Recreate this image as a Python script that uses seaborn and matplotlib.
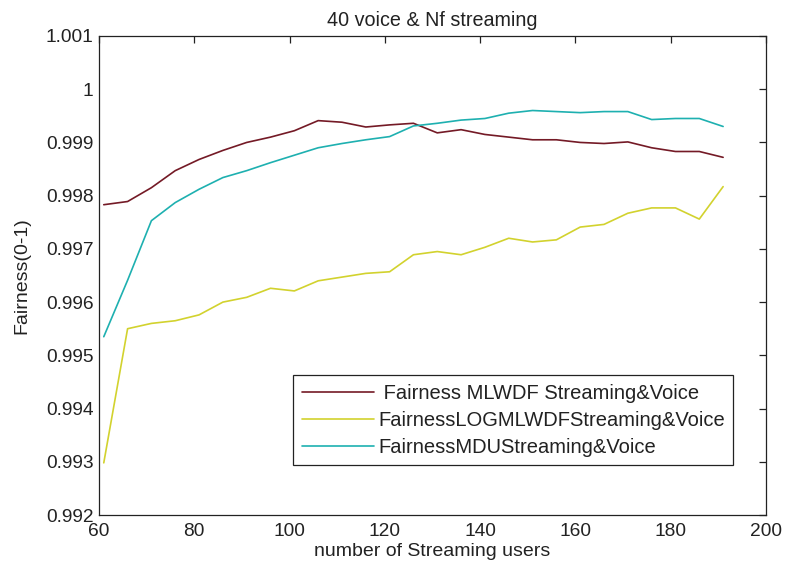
import matplotlib
matplotlib.use("Agg")
import matplotlib.pyplot as plt
import seaborn as sns
import pandas as pd
from matplotlib.ticker import FuncFormatter

users = list(range(61, 192, 5))

mlwdf = [0.99783, 0.99789, 0.99815, 0.99847, 0.99868, 0.99885, 0.99900, 0.99910,
         0.99922, 0.99941, 0.99938, 0.99929, 0.99933, 0.99936, 0.99918, 0.99924,
         0.99915, 0.99910, 0.99905, 0.99905, 0.99900, 0.99898, 0.99901, 0.99890,
         0.99883, 0.99883, 0.99872]
logmlwdf = [0.99298, 0.99550, 0.99560, 0.99565, 0.99576, 0.99600, 0.99609, 0.99626,
            0.99621, 0.99640, 0.99647, 0.99654, 0.99657, 0.99689, 0.99695, 0.99689,
            0.99703, 0.99720, 0.99713, 0.99717, 0.99741, 0.99746, 0.99767, 0.99777,
            0.99777, 0.99756, 0.99817]
mdu = [0.99535, 0.99641, 0.99753, 0.99787, 0.99812, 0.99834, 0.99847, 0.99862,
       0.99876, 0.99890, 0.99898, 0.99905, 0.99911, 0.99931, 0.99936, 0.99942,
       0.99945, 0.99955, 0.99960, 0.99958, 0.99956, 0.99958, 0.99958, 0.99943,
       0.99945, 0.99945, 0.99930]

labels = [" Fairness MLWDF Streaming&Voice",
          "FairnessLOGMLWDFStreaming&Voice",
          "FairnessMDUStreaming&Voice"]
colors = ["#741a26", "#d2d22e", "#1eb0b0"]

rows = []
for lab, vals in zip(labels, [mlwdf, logmlwdf, mdu]):
    for u, v in zip(users, vals):
        rows.append({"users": u, "fairness": v, "series": lab})
df = pd.DataFrame(rows)

sns.set_theme(style="white")
plt.rcParams['font.family'] = ['Liberation Sans', 'DejaVu Sans']

fig = plt.figure(figsize=(7.88, 5.69), dpi=100)
ax = fig.add_axes([99/788, 1-515/569, 667/788, 479/569])

sns.lineplot(data=df, x="users", y="fairness", hue="series",
             palette=dict(zip(labels, colors)), hue_order=labels,
             linewidth=1.2, ax=ax)

ax.set_xlim(60, 200)
ax.set_ylim(0.992, 1.001)
ax.set_xticks(range(60, 201, 20))
ax.set_yticks([0.992 + 0.001*i for i in range(10)])
ax.yaxis.set_major_formatter(FuncFormatter(lambda v, p: ("%.3f" % v).rstrip('0').rstrip('.')))
ax.tick_params(direction='in', length=5, width=0.9, top=True, right=True,
               labelsize=13.8, colors='#222222')
ax.tick_params(axis='x', pad=6)
ax.tick_params(axis='y', pad=4)
for s in ax.spines.values():
    s.set_color('#222222')
    s.set_linewidth(0.9)

ax.set_title("40 voice & Nf streaming", fontsize=14.2, pad=7, color='#222222')
ax.set_xlabel("number of Streaming users", fontsize=14, labelpad=2, color='#222222')
ax.set_ylabel("Fairness(0-1)", fontsize=14, labelpad=11, color='#222222')

leg = ax.legend(loc='lower left', bbox_to_anchor=(0.291, 0.104), borderaxespad=0,
                fontsize=14.5, frameon=True, fancybox=False, framealpha=1,
                handlelength=3.6, handletextpad=0.2, labelspacing=0.4,
                borderpad=0.42, title=None)
leg.get_frame().set_edgecolor('#222222')
leg.get_frame().set_linewidth(0.9)
for t in leg.get_texts():
    t.set_color('#222222')

fig.savefig("out.png", dpi=100)
